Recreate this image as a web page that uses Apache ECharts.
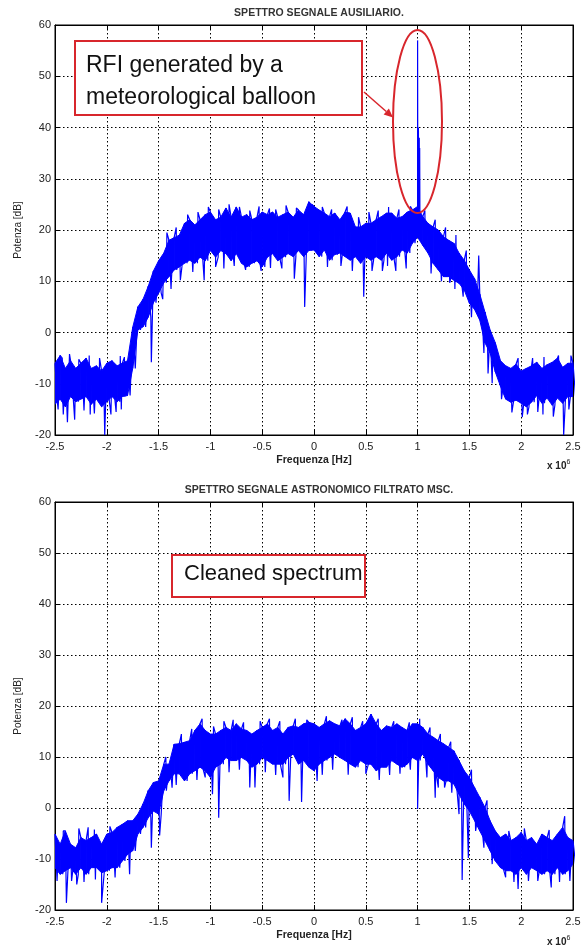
<!DOCTYPE html>
<html>
<head>
<meta charset="utf-8">
<script src="https://cdn.jsdelivr.net/npm/echarts@6/dist/echarts.min.js"></script>
<style>
  html, body { margin: 0; padding: 0; background: #fff; }
  #chart { width: 586px; height: 947px; }
</style>
</head>
<body>
<div id="chart"></div>
<script>
  // frequency bins are 0.05 MHz apart, from -2.5 to 2.5 (x 10^6 Hz)
  const fStart = -2.5
  const fStep = 0.05

  // upper / lower edge of the noisy band, top plot (auxiliary signal)
  const topHigh = [
    -6, -4.5, -7, -5.5, -7, -6, -5, -7, -6.5, -7.5,
    -6, -5.5, -6.5, -6, -5.5, 1, 5, 6.5, 9, 12,
    14, 15.5, 18, 18.5, 19, 21.3, 22, 21, 22, 23,
    23.5, 22, 22.5, 24.3, 22.5, 24.5, 22.5, 23, 22, 22.5,
    23.5, 23, 23.5, 22.5, 23, 23.5, 22.5, 23.9, 23, 25.5,
    24.6, 23.9, 23.3, 22.6, 23.3, 22, 23.5, 23.3, 20.6, 20.6,
    21.3, 21.3, 22, 22.6, 23.3, 23.3, 22.3, 22.6, 23.5, 23.9,
    24.6, 22.6, 21.3, 20.6, 20, 18.7, 18, 17.4, 15.5, 14.1,
    12.2, 10.5, 7.5, 4, 0.5, -2, -5.5, -6.5, -7, -6.2,
    -7.5, -7, -6.5, -5.8, -7, -6.3, -5.8, -5, -6.8, -6,
    -6
  ]
  const topLow = [
    -14, -13, -14.5, -12.5, -13.5, -13, -12.5, -14, -13, -14.5,
    -13.5, -12.5, -13.5, -12.5, -12.3, -7, 0.5, 1.1, 3, 5.8,
    7.7, 9.7, 10.9, 12.2, 12.8, 13.5, 14.1, 13.5, 14.7, 14,
    16, 14.7, 16, 15.4, 14, 15.4, 13.5, 12.8, 13.5, 14,
    12.8, 14.7, 15.4, 14, 14.7, 15.4, 14.8, 16, 14.8, 16,
    16.1, 14.8, 16.1, 14.1, 15.2, 15.5, 14.8, 14.1, 14.8, 13.5,
    14.8, 14.1, 14.8, 14.1, 15.5, 14.1, 14.8, 16.1, 15.5, 17.4,
    18.6, 17, 15.5, 13.5, 12.2, 10.9, 10.9, 10.2, 9.6, 8.3,
    5.7, 4.5, 2.4, -2, -4, -7.7, -10.5, -13, -13.6, -13.2,
    -13.8, -14.5, -13.6, -12.3, -13.8, -12.8, -14.2, -12.8, -13.8, -12.5,
    -12.5
  ]
  // isolated spikes sticking out of the band [freq, dB]
  const topSpikes = [
    [-2.47, -15], [-2.43, -5], [-2.42, -16], [-2.38, -17.5], [-2.36, -4.2],
    [-2.31, -17], [-2.27, -5.2], [-2.22, -15.2], [-2.17, -4.5], [-2.16, -16],
    [-2.12, -15.8], [-2.07, -5], [-2.02, -20], [-1.96, -16], [-1.91, -15.5],
    [-1.87, -4.6], [-1.86, -15], [-1.83, -4.8], [-1.57, -5.8], [-1.46, 6.5],
    [-1.42, 19.5], [-1.38, 8.5], [-1.33, 20.5], [-1.29, 10.2], [-1.22, 23],
    [-1.17, 11.8], [-1.12, 23.5], [-1.06, 10.2], [-1.02, 24.5], [-0.95, 12.8],
    [-0.92, 24], [-0.87, 12.5], [-0.82, 25], [-0.77, 13], [-0.72, 24.5],
    [-0.66, 12.2], [-0.62, 23.8], [-0.53, 24.6], [-0.51, 12], [-0.43, 24.2],
    [-0.42, 12.6], [-0.37, 24], [-0.31, 12.5], [-0.27, 24.8], [-0.19, 10.5],
    [-0.17, 24.3], [-0.09, 5], [-0.02, 25], [0.08, 24.5], [0.13, 12.8],
    [0.17, 24], [0.26, 13], [0.32, 24.6], [0.37, 12], [0.43, 22.5], [0.48, 7],
    [0.53, 23.5], [0.56, 12], [0.62, 23.8], [0.66, 12], [0.71, 13], [0.72, 24.5],
    [0.79, 12], [0.82, 24], [0.89, 12.5], [0.93, 24.6], [1.07, 23.8],
    [1.13, 11.5], [1.17, 22], [1.23, 10], [1.27, 20.5], [1.31, 9.7],
    [1.36, 8.5], [1.37, 19], [1.44, 7], [1.47, 16], [1.52, 3], [1.59, 15],
    [1.64, -4], [1.68, -8], [1.72, -9.9], [1.81, -13], [1.91, -15.6],
    [1.97, -5], [2.01, -16.5], [2.06, -16], [2.11, -5], [2.16, -15.5],
    [2.21, -16], [2.22, -4.8], [2.31, -16.4], [2.36, -4.5], [2.41, -20],
    [2.46, -15], [2.48, -4.5]
  ]
  // RFI from the balloon, around 1 MHz
  const rfiSpikes = [
    [0.997, 24], [1.0, 57], [1.002, 24], [1.004, 40], [1.006, 24],
    [1.008, 40], [1.01, 24], [1.012, 38], [1.014, 24], [1.016, 38],
    [1.018, 24], [1.02, 36], [1.022, 24]
  ]

  // bottom plot (filtered astronomical signal)
  const bottomHigh = [
    -5.1, -7.1, -4.5, -7.1, -7.8, -5.8, -6.4, -5.8, -5.1, -7.1,
    -5.1, -4.8, -3.8, -3.2, -2.5, -2.5, -1.2, 0.8, 3.4, 5,
    5.3, 8.6, 8.6, 12.5, 12.6, 12.9, 13.2, 15.2, 16.5, 15.2,
    14.5, 14.5, 15.2, 15.8, 15.2, 16.5, 15.5, 15.2, 14.5, 15.2,
    15.8, 16.5, 15.2, 15.8, 14.5, 15.8, 16.1, 15.8, 16.5, 16.8,
    16.5, 15.8, 16.5, 17.1, 16.5, 16.1, 17.5, 16.5, 15.2, 15.8,
    16.5, 18.4, 16.5, 15.2, 16.1, 15.8, 16.5, 15.8, 15.2, 16.5,
    16.5, 15.8, 14.5, 13.9, 13.2, 12.6, 11.9, 11.2, 9.3, 7.3,
    6, 4, 2.1, 0.1, -2.5, -4.5, -5.8, -5.1, -6.4, -5.8,
    -4.8, -6.4, -5.8, -7.1, -5.1, -5.8, -6.4, -5.1, -3.8, -5.8,
    -6.4
  ]
  const bottomLow = [
    -11.7, -13, -12.3, -11.7, -13, -11.7, -13, -11.7, -11.7, -12.7,
    -12.3, -11.7, -11.7, -10.4, -9.1, -8.4, -5.1, -3.8, -1.9, -0.6,
    -1.2, 3.4, 5.3, 6.7, 6.7, 5.3, 6.7, 7.3, 8, 7.3,
    6, 8, 8.6, 9.9, 9.3, 9.3, 9.9, 9.3, 8, 8.6,
    9.9, 9.3, 8.6, 8.6, 8.6, 9.9, 10.6, 8.6, 9.3, 8,
    7.3, 8.6, 9.3, 9.9, 10.6, 9.9, 9.3, 8.6, 8, 9.3,
    8.6, 8.6, 7.3, 8, 8, 9.3, 8.6, 8, 8.6, 9.9,
    9.3, 10.6, 8.6, 7.3, 6, 5.3, 5.3, 4.7, 2.7, 0.8,
    -0.6, -2.5, -4.5, -6.4, -8.4, -10.4, -11.7, -12.3, -12.3, -13,
    -11.7, -13, -11.7, -12.3, -13, -12.3, -13, -11.7, -13, -12.3,
    -11
  ]
  const bottomSpikes = [
    [-2.48, -14.3], [-2.42, -4.5], [-2.39, -18.6], [-2.34, -14.3], [-2.29, -15],
    [-2.27, -4], [-2.22, -14.5], [-2.18, -3.8], [-2.12, -4.2], [-2.11, -14],
    [-2.05, -18.6], [-1.97, -3.6], [-1.92, -13.6], [-1.78, -13], [-1.57, -7.8],
    [-1.49, -5.4], [-1.43, 10], [-1.37, 4], [-1.33, 4.5], [-1.28, 14.5],
    [-1.18, 15.5], [-1.13, 5.5], [-1.08, 17.5], [-1.05, 6], [-0.98, 2.7],
    [-0.97, 16], [-0.92, -1.9], [-0.87, 17], [-0.82, 7], [-0.78, 17.3],
    [-0.72, 7.5], [-0.68, 16.8], [-0.62, 4], [-0.57, 4], [-0.52, 17],
    [-0.47, 7], [-0.43, 17.5], [-0.37, 6.5], [-0.33, 17], [-0.3, 6],
    [-0.24, 1.4], [-0.18, 17.5], [-0.12, 1.2], [-0.07, 17.3], [0.03, 5.3],
    [0.08, 6.5], [0.12, 18], [0.18, 7.5], [0.27, 17.3], [0.33, 6.5],
    [0.37, 17.8], [0.47, 17], [0.5, 6.7], [0.62, 17.5], [0.63, 5.5],
    [0.73, 6.5], [0.77, 17], [0.83, 6.7], [0.92, 16.8], [0.93, 7.5],
    [1.0, -0.2], [1.02, 17.5], [1.09, 6], [1.12, 15.8], [1.17, 2], [1.2, 4],
    [1.22, 14.5], [1.26, 4], [1.32, 13], [1.33, 3], [1.4, -1.2], [1.43, -14.1],
    [1.49, -9.8], [1.52, 7.5], [1.56, -4.5], [1.64, -7.8], [1.67, 1.5],
    [1.72, -11], [1.85, -13.6], [1.88, -4.5], [1.93, -14.5], [1.97, -15.9],
    [2.03, -4], [2.07, -14.3], [2.16, -14.3], [2.27, -4.3], [2.29, -15.6],
    [2.37, -14.5], [2.42, -1.6], [2.47, -14.3]
  ]

  const titles = ['SPETTRO SEGNALE AUSILIARIO.', 'SPETTRO SEGNALE ASTRONOMICO FILTRATO MSC.']

  // zig-zag between the band edges, then drop the spikes in at their frequency
  function buildTrace(high, low, spikes) {
    const pts = []
    for (let i = 0; i < high.length; i++) {
      const f = fStart + i * fStep
      pts.push([f, high[i]])
      pts.push([f + fStep / 2, low[i]])
    }
    spikes.forEach(p => pts.push(p))
    pts.sort((a, b) => a[0] - b[0])
    return pts
  }

  // [freq, high, low] rows for the filled core of the band
  function buildBand(high, low) {
    return high.map((h, i) => [fStart + i * fStep, h, low[i]])
  }

  // one quad per bin, joining this bin's edges to the next bin's
  function bandItem(high, low) {
    return function (params, api) {
      const i = params.dataIndex
      if (i >= high.length - 1) return
      const f = api.value(0)
      const pts = [
        api.coord([f, high[i]]),
        api.coord([f + fStep, high[i + 1]]),
        api.coord([f + fStep, low[i + 1]]),
        api.coord([f, low[i]])
      ]
      return {
        type: 'polygon',
        shape: { points: pts },
        style: { fill: '#0000ff', stroke: '#0000ff', lineWidth: 1 }
      }
    }
  }

  const font = '"Liberation Sans", Arial, sans-serif'
  const red = '#d8262c'
  const grids = [
    { left: 55, top: 25, width: 518, height: 410 },
    { left: 55, top: 502, width: 518, height: 408 }
  ]

  const xAxes = []
  const yAxes = []
  grids.forEach((g, i) => {
    xAxes.push({
      type: 'value', gridIndex: i, min: -2.5, max: 2.5, interval: 0.5,
      name: 'Frequenza [Hz]', nameLocation: 'middle', nameGap: 20,
      nameTextStyle: { fontSize: 10.5, fontWeight: 'bold', color: '#222', fontFamily: font },
      axisLine: { show: true, onZero: false, lineStyle: { color: '#000', width: 1 } },
      axisTick: { show: true, inside: true, length: 5, lineStyle: { color: '#000' } },
      axisLabel: { fontSize: 11, color: '#222', margin: 6, fontFamily: font },
      splitLine: { show: true, lineStyle: { color: '#000', type: [1.5, 2.5], width: 1 } }
    })
    // top edge ticks
    xAxes.push({
      type: 'value', gridIndex: i, position: 'top', min: -2.5, max: 2.5, interval: 0.5,
      axisLine: { show: true, onZero: false, lineStyle: { color: '#000', width: 1 } },
      axisTick: { show: true, inside: true, length: 5, lineStyle: { color: '#000' } },
      axisLabel: { show: false },
      splitLine: { show: false }
    })
    yAxes.push({
      type: 'value', gridIndex: i, min: -20, max: 60, interval: 10,
      name: 'Potenza [dB]', nameLocation: 'middle', nameGap: 32, nameRotate: 90,
      nameTextStyle: { fontSize: 10, color: '#222', fontFamily: font },
      axisLine: { show: true, onZero: false, lineStyle: { color: '#000', width: 1 } },
      axisTick: { show: true, inside: true, length: 5, lineStyle: { color: '#000' } },
      axisLabel: { fontSize: 11, color: '#222', margin: 4, fontFamily: font },
      splitLine: { show: true, lineStyle: { color: '#000', type: [1.5, 2.5], width: 1 } }
    })
    yAxes.push({
      type: 'value', gridIndex: i, position: 'right', min: -20, max: 60, interval: 10,
      axisLine: { show: true, onZero: false, lineStyle: { color: '#000', width: 1 } },
      axisTick: { show: true, inside: true, length: 5, lineStyle: { color: '#000' } },
      axisLabel: { show: false },
      splitLine: { show: false }
    })
  })

  // arrowhead pointing from the label box to the ellipse
  const arrowFrom = [364, 92]
  const arrowTip = [393, 117.5]
  const dx = arrowTip[0] - arrowFrom[0]
  const dy = arrowTip[1] - arrowFrom[1]
  const len = Math.sqrt(dx * dx + dy * dy)
  const ux = dx / len, uy = dy / len
  const bx = arrowTip[0] - ux * 9, by = arrowTip[1] - uy * 9
  const arrowHead = [arrowTip, [bx - uy * 4, by + ux * 4], [bx + uy * 4, by - ux * 4]]

  const exponentLabel = y => ({
    type: 'text', x: 547, y: y, z: 100,
    style: {
      text: '{a|x 10}{b|6}',
      rich: {
        a: { fontSize: 10, fontFamily: font, fill: '#222', fontWeight: 'bold' },
        b: { fontSize: 7, fontFamily: font, fill: '#222', padding: [0, 0, 7, 0] }
      }
    }
  })

  const chart = echarts.init(document.getElementById('chart'))
  const option = {
    animation: false,
    backgroundColor: '#fff',
    title: [
      {
        text: titles[0], left: 314, top: 3, textAlign: 'center',
        textStyle: { fontSize: 10.5, fontWeight: 'bold', color: '#333', fontFamily: font }
      },
      {
        text: titles[1], left: 314, top: 480, textAlign: 'center',
        textStyle: { fontSize: 10.5, fontWeight: 'bold', color: '#333', fontFamily: font }
      }
    ],
    grid: grids.map(g => Object.assign({ show: true, borderColor: '#000', borderWidth: 1, backgroundColor: '#fff' }, g)),
    xAxis: xAxes,
    yAxis: yAxes,
    series: [
      {
        type: 'custom', xAxisIndex: 0, yAxisIndex: 0, clip: true,
        renderItem: bandItem(topHigh, topLow),
        data: buildBand(topHigh, topLow)
      },
      {
        type: 'line', xAxisIndex: 0, yAxisIndex: 0,
        symbol: 'none', clip: true,
        lineStyle: { color: '#0000ff', width: 1.2 },
        data: buildTrace(topHigh, topLow, topSpikes.concat(rfiSpikes))
      },
      {
        type: 'custom', xAxisIndex: 2, yAxisIndex: 2, clip: true,
        renderItem: bandItem(bottomHigh, bottomLow),
        data: buildBand(bottomHigh, bottomLow)
      },
      {
        type: 'line', xAxisIndex: 2, yAxisIndex: 2,
        symbol: 'none', clip: true,
        lineStyle: { color: '#0000ff', width: 1.2 },
        data: buildTrace(bottomHigh, bottomLow, bottomSpikes)
      }
    ],
    graphic: [
      exponentLabel(459),
      exponentLabel(935),
      {
        type: 'rect', z: 100,
        shape: { x: 75, y: 41, width: 287, height: 74 },
        style: { fill: '#fff', stroke: red, lineWidth: 2 }
      },
      {
        type: 'text', x: 86, y: 50, z: 101,
        style: { text: 'RFI generated by a\nmeteorological balloon', font: '23px ' + font, fill: '#111', lineHeight: 32 }
      },
      {
        type: 'ellipse', z: 100,
        shape: { cx: 417.5, cy: 121.5, rx: 24.5, ry: 91.5 },
        style: { fill: 'none', stroke: red, lineWidth: 2 }
      },
      {
        type: 'line', z: 100,
        shape: { x1: arrowFrom[0], y1: arrowFrom[1], x2: bx, y2: by },
        style: { stroke: red, lineWidth: 1.5 }
      },
      {
        type: 'polygon', z: 100,
        shape: { points: arrowHead },
        style: { fill: red }
      },
      {
        type: 'rect', z: 100,
        shape: { x: 172, y: 555, width: 193, height: 42 },
        style: { fill: '#fff', stroke: red, lineWidth: 2 }
      },
      {
        type: 'text', x: 184, y: 563, z: 101,
        style: { text: 'Cleaned spectrum', font: '22px ' + font, fill: '#111' }
      }
    ]
  }
  option && chart.setOption(option)
</script>
</body>
</html>
